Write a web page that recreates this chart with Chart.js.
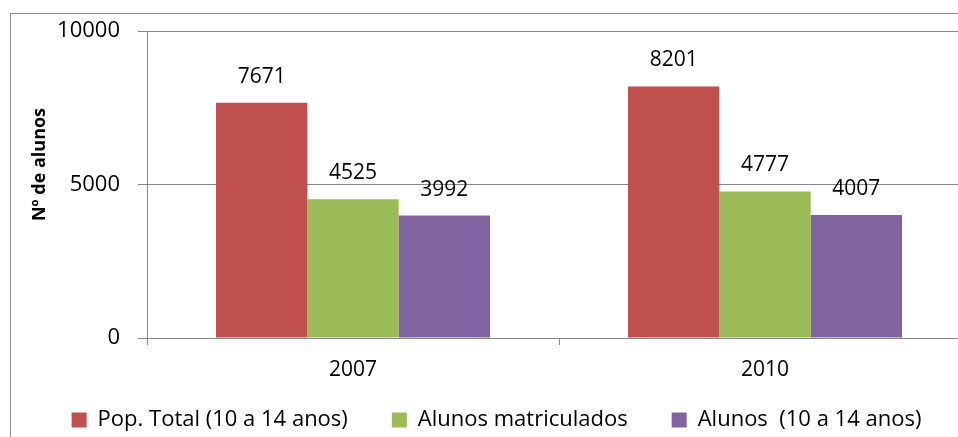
<!DOCTYPE html>
<html>
<head>
<meta charset="utf-8">
<script src="https://cdn.jsdelivr.net/npm/chart.js@4/dist/chart.umd.min.js"></script>
<style>
  html, body { margin: 0; padding: 0; background: #fff; overflow: hidden; }
  #c { position: absolute; left: 0; top: 0; }
</style>
</head>
<body>
<canvas id="c" width="985" height="460"></canvas>
<script>
const categories = ["2007", "2010"];
const seriesNames = ["Pop. Total (10 a 14 anos)", "Alunos matriculados", "Alunos  (10 a 14 anos)"];
const popTotal = [7671, 8201];
const alunosMatriculados = [4525, 4777];
const alunos10a14 = [3992, 4007];
const yTicks = [0, 5000, 10000];
const yTitle = "Nº de alunos";

const colors = ["#C0504D", "#9BBB59", "#8064A2"];
const FONT = "'Open Sans', 'DejaVu Sans', sans-serif";
const GRID = "#868686";

const frame = {
  id: "frame",
  beforeDraw(chart) {
    const ctx = chart.ctx;
    ctx.save();
    ctx.fillStyle = "#fff";
    ctx.fillRect(0, 0, chart.width, chart.height);
    ctx.strokeStyle = "#8c8c8c";
    ctx.lineWidth = 1;
    ctx.strokeRect(10.5, 13.5, 990, 470);
    ctx.restore();
  }
};

const barLabels = {
  id: "barLabels",
  afterDatasetsDraw(chart) {
    const ctx = chart.ctx;
    ctx.save();
    ctx.font = "21px " + FONT;
    ctx.fillStyle = "#000";
    ctx.textAlign = "center";
    ctx.textBaseline = "middle";
    chart.data.datasets.forEach((ds, i) => {
      chart.getDatasetMeta(i).data.forEach((bar, j) => {
        ctx.fillText(String(ds.data[j]), bar.x, bar.y - 26);
      });
    });
    ctx.restore();
  }
};

const yTitlePlugin = {
  id: "yTitlePlugin",
  afterDraw(chart) {
    const ctx = chart.ctx;
    ctx.save();
    ctx.translate(39.5, 164.5);
    ctx.rotate(-Math.PI / 2);
    ctx.font = "bold 18px " + FONT;
    ctx.fillStyle = "#000";
    ctx.textAlign = "center";
    ctx.textBaseline = "middle";
    ctx.fillText(yTitle, 0, 0);
    ctx.restore();
  }
};

new Chart(document.getElementById("c"), {
  type: "bar",
  data: {
    labels: categories,
    datasets: [
      { label: seriesNames[0], data: popTotal, backgroundColor: colors[0] },
      { label: seriesNames[1], data: alunosMatriculados, backgroundColor: colors[1] },
      { label: seriesNames[2], data: alunos10a14, backgroundColor: colors[2] }
    ]
  },
  options: {
    responsive: false,
    animation: false,
    devicePixelRatio: 1,
    layout: { padding: { left: 22, right: 14, top: 29, bottom: 19 } },
    datasets: { bar: { barPercentage: 1.0, categoryPercentage: 0.665 } },
    font: { family: FONT },
    plugins: {
      legend: {
        position: "bottom",
        labels: {
          boxWidth: 15, boxHeight: 15, padding: 44,
          color: "#000",
          font: { family: FONT, size: 22 }
        }
      },
      tooltip: { enabled: false },
      title: { display: false }
    },
    scales: {
      x: {
        offset: true,
        grid: { display: true, drawOnChartArea: false, drawTicks: true, tickLength: 7, color: GRID, offset: true },
        border: { display: true, color: GRID },
        ticks: { color: "#000", font: { family: FONT, size: 21 }, padding: 12 },
        afterFit(scale) {
          scale.height = 27;
          scale._computeLabelArea = () => undefined;
        }
      },
      y: {
        min: 0, max: 10000,
        afterBuildTicks(scale) { scale.ticks = yTicks.map(v => ({ value: v })); },
        grid: { display: true, drawOnChartArea: true, drawTicks: true, tickLength: 9, color: GRID },
        border: { display: true, color: GRID },
        ticks: { color: "#000", font: { family: FONT, size: 22 }, padding: 18, callback: v => String(v) },
        afterFit(scale) { scale.width = 125; }
      }
    }
  },
  plugins: [frame, barLabels, yTitlePlugin]
});
</script>
</body>
</html>
